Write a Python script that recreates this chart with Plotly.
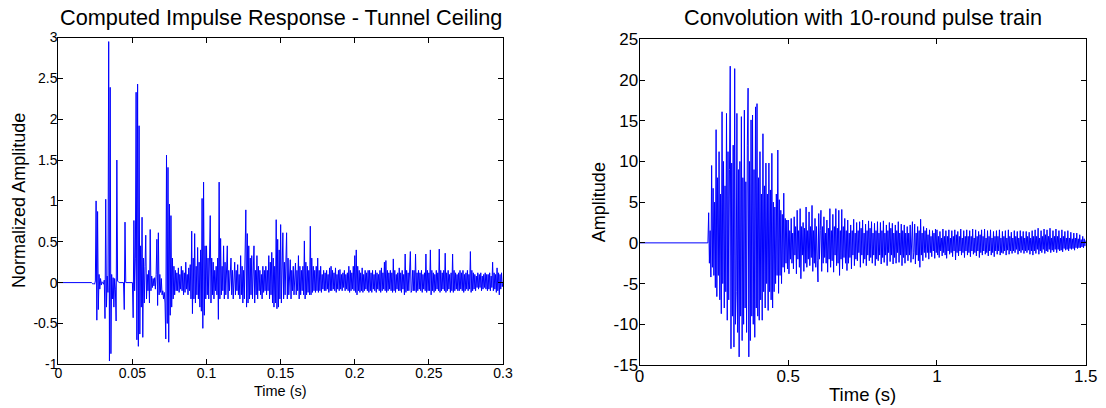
import numpy as np
import plotly.graph_objects as go

# ---------------- data: left panel (impulse response), sampled every 0.0005 s from t = 0 ----------------
ir_dt = 0.0005
ir_values = [
    # 0.000 - 0.0095
    0, 0, 0, 0, 0, 0, 0, 0, 0, 0, 0, 0, 0, 0, 0, 0, 0, 0, 0, 0,
    # 0.010 - 0.0195
    0, 0, 0, 0, 0, 0, 0, 0, 0, 0, 0, 0, 0, 0, 0, 0, 0, 0, 0, 0,
    # 0.020
    0, 0, 0, 0, 0, 0, -0.01, -0.02, -0.01, -0.02, 0.02, 1.0, -0.46, 0.87, -0.33, 0.1, -0.08, 0.05, -0.03, 0.01,
    # 0.030
    0, -0.02, 0.03, -0.44, 1.02, -0.3, 0.08, -0.12, 2.95, -0.96, 2.39, -0.87, 0.1, -0.2, 0.06, -0.3, 0.05, -0.08, -0.47, 1.5,
    # 0.040
    0.02, 0, 0, 0, 0, 0, 0, 0, 0, -0.33, 0.74, 0, 0, 0, 0, 0, 0, 0, 0, 0,
    # 0.050
    0, -0.43, 0.76, -0.1, 0.3, 2.33, -0.7, 2.43, -0.78, 1.92, -0.63, 0.45, -0.3, 0.8, -0.67, 0.3, -0.25, 0.2, 0.58, -0.2,
    # 0.060
    0.1, -0.1, 0.15, -0.25, 0.65, -0.1, 0.08, -0.06, 0.05, -0.04, 0.06, -0.08, 0.1, 0.53, -0.28, 0.61, -0.15, 0.1, -0.12, 0.05,
    # 0.070
    -0.15, -0.1, -0.2, -0.12, -0.25, -0.69, 1.56, -0.5, 1.41, -0.73, 0.96, -0.4, 0.82, -0.3, 0.3, -0.2, 0.2, -0.15, 0.15, -0.1,
    # 0.080
    0.12, -0.1, 0.18, -0.12, 0.1, -0.08, 0.2, -0.1, 0.15, -0.15, 0.12, -0.12, 0.25, -0.08, 0.1, -0.15, 0.18, -0.1, 0.22, -0.2,
    # 0.090
    0.63, -0.38, 0.3, -0.2, 0.6, -0.25, 0.2, -0.15, 0.43, -0.2, 0.25, -0.3, 0.4, -0.35, 1.03, -0.56, 1.23, -0.4, 0.45, -0.2,
    # 0.100
    0.45, -0.15, 0.3, -0.2, 0.2, 0.82, -0.25, 0.3, -0.15, 0.25, -0.2, 0.15, -0.1, 0.2, -0.15, 0.3, -0.45, 1.23, -0.2, 0.54,
    # 0.110
    -0.15, 0.2, -0.1, 0.45, -0.2, 0.25, -0.15, 0.2, 0.45, -0.2, 0.15, -0.1, 0.2, 0.3, -0.15, 0.15, -0.2, 0.1, 0.25, -0.15,
    # 0.120
    0.15, -0.1, 0.22, -0.15, 0.1, -0.2, 0.33, -0.15, 0.2, -0.25, 0.15, -0.2, 0.25, 0.89, -0.3, 0.6, -0.25, 0.45, -0.2, 0.3,
    # 0.130
    -0.15, 0.33, -0.2, 0.2, 0.45, -0.25, 0.15, -0.15, 0.33, -0.2, 0.2, -0.1, 0.15, -0.15, 0.1, -0.2, 0.2, -0.12, 0.15, -0.1,
    # 0.140
    0.2, -0.15, 0.15, -0.1, 0.33, -0.2, 0.25, -0.15, 0.37, -0.25, 0.3, -0.3, 0.2, -0.25, 0.77, -0.32, 0.53, -0.3, 0.4, -0.2,
    # 0.150
    0.71, -0.25, 0.3, 0.61, -0.2, 0.25, -0.15, 0.2, 0.61, -0.2, 0.3, -0.15, 0.2, 0.28, -0.2, 0.15, -0.1, 0.2, -0.15, 0.15,
    # 0.160
    0.24, -0.15, 0.15, -0.1, 0.33, -0.2, 0.2, -0.15, 0.15, -0.1, 0.2, -0.15, 0.51, -0.2, 0.25, -0.15, 0.2, -0.12, 0.15, -0.15,
    # 0.170
    0.69, -0.15, 0.3, -0.12, 0.2, -0.1, 0.15, -0.12, 0.2, -0.1, 0.3, -0.12, 0.15, -0.1, 0.2, -0.12, 0.1, -0.08, 0.15, -0.1,
    # 0.180
    0.12, -0.1, 0.15, -0.08, 0.1, -0.12, 0.18, -0.1, 0.2, -0.1, 0.15, -0.08, 0.12, -0.1, 0.18, -0.12, 0.1, -0.08, 0.15, -0.1,
    # 0.190
    0.16, -0.08, 0.1, -0.1, 0.12, -0.06, 0.15, -0.1, 0.1, -0.08, 0.12, -0.1, 0.2, -0.12, 0.15, -0.1, 0.12, -0.08, 0.2, -0.1,
    # 0.200
    0.33, -0.12, 0.4, -0.15, 0.2, -0.1, 0.15, -0.12, 0.12, -0.1, 0.18, -0.12, 0.1, -0.1, 0.15, -0.08, 0.12, -0.1, 0.15, -0.12,
    # 0.210
    0.15, -0.1, 0.12, -0.12, 0.15, -0.08, 0.1, -0.1, 0.15, -0.12, 0.12, -0.08, 0.1, -0.1, 0.15, -0.12, 0.18, -0.1, 0.12, -0.08,
    # 0.220
    0.25, -0.1, 0.27, -0.12, 0.15, -0.1, 0.12, -0.08, 0.15, -0.1, 0.12, -0.12, 0.29, -0.1, 0.15, -0.12, 0.1, -0.08, 0.12, -0.1,
    # 0.230
    0.18, -0.1, 0.12, -0.12, 0.15, -0.08, 0.1, -0.15, 0.35, -0.12, 0.15, -0.1, 0.12, -0.1, 0.15, 0.38, -0.12, -0.1, 0.15, -0.1,
    # 0.240
    0.15, -0.1, 0.35, -0.12, 0.12, -0.1, 0.15, -0.08, 0.12, -0.1, 0.15, -0.12, 0.1, -0.08, 0.12, -0.1, 0.35, -0.12, 0.15, -0.1,
    # 0.250
    0.12, -0.1, 0.4, -0.15, 0.15, -0.1, 0.12, -0.12, 0.1, -0.1, 0.15, -0.08, 0.12, -0.1, 0.41, -0.12, 0.15, -0.1, 0.12, -0.08,
    # 0.260
    0.15, -0.1, 0.36, -0.12, 0.12, -0.1, 0.15, -0.08, 0.1, -0.12, 0.12, -0.1, 0.35, -0.12, 0.15, -0.1, 0.12, -0.08, 0.1, -0.1,
    # 0.270
    0.12, -0.1, 0.15, -0.08, 0.12, -0.1, 0.15, -0.12, 0.1, -0.1, 0.12, -0.08, 0.15, -0.1, 0.1, -0.08, 0.38, -0.12, 0.15, -0.1,
    # 0.280
    0.12, -0.08, 0.1, -0.1, 0.08, -0.06, 0.12, -0.08, 0.1, -0.06, 0.12, -0.1, 0.08, -0.08, 0.1, -0.06, 0.12, -0.08, 0.1, -0.1,
    # 0.290
    0.1, -0.08, 0.12, -0.1, 0.08, -0.06, 0.25, -0.1, 0.12, -0.08, 0.1, -0.12, 0.18, -0.1, 0.12, -0.15, 0.1, -0.08, 0.12, -0.05,
    # 0.300
    0.0,
]

# ---------------- data: right panel (convolution) ----------------
# silent lead-in: the signal is zero from t = 0 until the block below starts
conv_lead_time = [0.0]
conv_lead_values = [0.0]
# then sampled every 0.0025 s from t = 0.2 s
conv_block_start = 0.2
conv_dt = 0.0025
conv_values = [
    # 0.20
    0, 0, 0, 0, 0, 0, 0, 0, 0, 0, 0, 0, 0, 3.7, -2.5, 1.5, -4.2, 9.5, -3, 6.7,
    -4, 5, -5.5, 13.9, -6.6, 8, -4, 11.2, -7, 6, -8.7, 16.1, -5, 10, -8, 7, -6, 15.9, -9.5, 11.2,
    # 0.30
    -7, 9, 21.7, -13, 9.8, -9, 12, -12.8, 21.4, -10, -6, 15.9, -11, 9, -14, 10, -9, 15.5, -12, 8,
    -10, 16.3, -8, 7.5, -11, 12, 19, -14, 10, -12, 15.1, -9, 15.7, -10, 9, -11.6, 16.7, -8, 17.1, -9,
    # 0.40
    8, -9.5, 11.2, -7, 6, -9.5, 13.4, -6, 7, -8, 9.8, -5, 6, -8.3, 9.8, -6, 6.5, -7, 11, -8,
    5, -6, 4.4, -5, 6, -4, 11.4, -6.2, 5.3, -4, 4, -5, 3.5, -3, 6.1, -3.6, 3, -2.5, 2.8, -3.2,
    # 0.50
    2.8, -3.8, 1.5, -2, 3.0, -2.5, 1.2, -3.2, 3.2, -1.5, 2, -3.8, 4.0, -2, 1.5, -3.0, 4.2, -4.4, 2, -1.5,
    2.5, -3.5, 1.8, -2.5, 4.4, -3.0, 1.5, -2, 3.8, -2.8, 2, -1.8, 4.6, -3.5, 1.5, -2.5, 3.0, -3, 2, -2.2,
    # 0.60
    -4.8, 3.6, -2, 1.5, 4.0, -3.5, 2, -2.5, 3.2, -1.8, 1.2, -2.5, 2.8, -3.6, 1.8, -2, 4.2, -3.0, 1.5, -2.2,
    3.5, -3.6, 2, -1.5, 4.2, -2.8, 1.8, -2.5, 4.0, -4.0, 1.5, -2, 4.1, -3.2, 2, -1.8, 3.0, -2.5, 1.5, -3.4,
    # 0.70
    2.8, -2.5, 1.2, -1.8, 2.2, -3.2, 1.5, -1.5, 2.9, -2.8, 1.2, -2, 2.5, -2.2, 1.5, -1.2, 2.6, -3.0, 1.8, -1.5,
    2.8, -2.5, 1.2, -2, 2.3, -2.8, 1.5, -1.5, 2.7, -2.2, 1.8, -1.8, 2.6, -2.5, 1.2, -1.5, 2.4, -2.8, 1.5, -2,
    # 0.80
    2.6, -2.2, 1.2, -1.5, 2.5, -2.6, 1.5, -1.8, 2.7, -2.4, 1.2, -1.5, 2.2, -2.8, 1.5, -1.2, 2.5, -2.3, 1.8, -1.5,
    2.4, -2.6, 1.2, -1.8, 2.2, -2.5, 1.5, -1.2, 2.6, -2.4, 1.2, -1.5, 2.3, -2.8, 1.5, -1.8, 2.2, -2.5, 1.2, -1.5,
    # 0.90
    2.0, -2.2, 1.2, -1.5, 2.2, -2.4, 1.5, 2.6, -2.0, -1.2, 2.3, -2.6, 1.2, -1.5, 2.0, -2.2, 1.5, -3.0, 2.9, -1.5,
    1.2, -2.2, 2.0, -1.2, 1.5, -1.8, 1.8, -1.2, 1.0, -2.0, 1.6, -1.2, 0.8, -1.7, 1.5, -1.0, 1.2, -1.9, 1.7, -1.2,
    # 1.00
    1.6, -1.5, 0.8, -1.8, 1.4, -1.0, 0.6, -1.6, 1.7, -1.2, 0.8, -1.5, 1.5, -1.9, 0.8, -1.0, 1.6, -1.4, 0.6, -1.2,
    1.5, -1.7, 0.8, -1.0, 1.6, -2.1, 1.0, -1.2, 1.4, -1.6, 0.8, -1.0, 1.7, -1.5, 0.6, -1.2, 1.5, -1.8, 0.8, -1.0,
    # 1.10
    1.6, -1.5, 0.8, -1.2, 1.5, -1.7, 0.8, -1.0, 1.7, -1.4, 0.6, -1.2, 1.6, -1.6, 0.8, -1.0, 1.4, -1.8, 1.0, -1.2,
    1.6, -1.5, 0.8, -1.0, 1.7, -1.4, 0.6, -1.2, 1.5, -1.6, 0.8, -1.0, 1.6, -1.5, 0.6, -1.2, 1.4, -1.7, 0.8, -1.0,
    # 1.20
    1.5, -1.4, 0.8, -1.0, 1.6, -1.5, 0.6, -1.2, 1.4, -1.3, 0.8, -1.0, 1.5, -1.5, 0.6, -0.9, 1.6, -1.4, 0.8, -1.0,
    1.3, -1.3, 0.6, -1.0, 1.5, -1.2, 0.8, -0.8, 1.4, -1.4, 0.6, -1.0, 1.5, -1.2, 0.8, -0.9, 1.4, -1.3, 0.6, -1.0,
    # 1.30
    1.4, -1.2, 0.8, -0.9, 1.3, -1.4, 0.6, -1.0, 1.5, -1.5, 0.8, -1.0, 1.6, -1.3, 0.8, -0.8, 1.8, -1.4, 0.6, -1.0,
    1.5, -1.2, 0.8, -0.8, 1.7, -1.3, 1.0, -1.0, 1.6, -1.1, 0.8, -0.8, 1.8, -1.2, 0.6, -0.9, 1.5, -1.1, 0.8, -0.8,
    # 1.40
    1.7, -1.2, 0.8, -0.8, 1.5, -1.0, 0.6, -0.9, 1.6, -1.1, 0.8, -0.7, 1.4, -0.9, 0.6, -0.8, 1.5, -1.0, 0.6, -0.7,
    1.3, -0.8, 0.5, -0.7, 1.2, -0.9, 0.6, -0.6, 1.2, -0.7, 0.5, -0.6, 1.0, -0.6, 0.4, -0.5, 0.8, -0.6, 0.5, -0.4,
    # 1.50
    0.3,
]

left_title = "Computed Impulse Response - Tunnel Ceiling"
right_title = "Convolution with 10-round pulse train"
left_xlabel = "Time (s)"
left_ylabel = "Normalized Amplitude"
right_xlabel = "Time (s)"
right_ylabel = "Amplitude"
left_xticks = [0, 0.05, 0.1, 0.15, 0.2, 0.25, 0.3]
left_xticklabels = ["0", "0.05", "0.1", "0.15", "0.2", "0.25", "0.3"]
left_yticks = [-1, -0.5, 0, 0.5, 1, 1.5, 2, 2.5, 3]
left_yticklabels = ["-1", "-0.5", "0", "0.5", "1", "1.5", "2", "2.5", "3"]
right_xticks = [0, 0.5, 1, 1.5]
right_xticklabels = ["0", "0.5", "1", "1.5"]
right_yticks = [-15, -10, -5, 0, 5, 10, 15, 20, 25]
right_yticklabels = ["-15", "-10", "-5", "0", "5", "10", "15", "20", "25"]

ir_t = np.arange(len(ir_values)) * ir_dt
conv_t = np.concatenate([conv_lead_time, conv_block_start + np.arange(len(conv_values)) * conv_dt])
conv_y = list(conv_lead_values) + list(conv_values)

FONT = "Arial, Liberation Sans, sans-serif"
W, H = 1106, 408
BLUE = "#0000ff"

fig = go.Figure()
fig.add_trace(go.Scatter(x=ir_t, y=ir_values, mode="lines",
                         line=dict(color=BLUE, width=1), xaxis="x", yaxis="y",
                         showlegend=False, hoverinfo="skip"))
fig.add_trace(go.Scatter(x=conv_t, y=conv_y, mode="lines",
                         line=dict(color=BLUE, width=1), xaxis="x2", yaxis="y2",
                         showlegend=False, hoverinfo="skip"))


def px_x(p):
    return p / W


def px_y(p):
    return 1 - p / H


def axis_style(size, standoff):
    return dict(showgrid=False, zeroline=False, showline=True, linecolor="black",
                linewidth=1, mirror="ticks", ticks="inside", ticklen=5,
                tickcolor="black", automargin=False, ticklabelstandoff=standoff,
                tickfont=dict(family=FONT, size=size, color="black"))


# page-pixel positions of the two plot boxes
L = dict(x0=58.3, x1=503, y0=37.5, y1=364.3)
R = dict(x0=639.5, x1=1085.7, y0=39.3, y1=365)

fig.update_layout(
    width=W, height=H, margin=dict(l=0, r=0, t=0, b=0, autoexpand=False),
    paper_bgcolor="white", plot_bgcolor="white",
    xaxis=dict(domain=[px_x(L["x0"]), px_x(L["x1"])], range=[0, 0.3],
               tickvals=left_xticks, ticktext=left_xticklabels, anchor="y", **axis_style(14, -4)),
    yaxis=dict(domain=[px_y(L["y1"]), px_y(L["y0"])], range=[-1, 3],
               tickvals=left_yticks, ticktext=left_yticklabels, anchor="x", **axis_style(14, -3)),
    xaxis2=dict(domain=[px_x(R["x0"]), px_x(R["x1"])], range=[0, 1.5],
                tickvals=right_xticks, ticktext=right_xticklabels, anchor="y2", **axis_style(17, -4)),
    yaxis2=dict(domain=[px_y(R["y1"]), px_y(R["y0"])], range=[-15, 25],
                tickvals=right_yticks, ticktext=right_yticklabels, anchor="x2", **axis_style(17, -3)),
)

texts = [
    (left_title, (L["x0"] + L["x1"]) / 2, 17.5, 21.7, 0),
    (right_title, (R["x0"] + R["x1"]) / 2, 17.5, 21.7, 0),
    (left_xlabel, (L["x0"] + L["x1"]) / 2, 391, 14.5, 0),
    (right_xlabel, (R["x0"] + R["x1"]) / 2, 394, 18.5, 0),
    (left_ylabel, 19, (L["y0"] + L["y1"]) / 2, 18, -90),
    (right_ylabel, 599, (R["y0"] + R["y1"]) / 2, 18, -90),
]
annotations = []
for text, xp, yp, size, angle in texts:
    annotations.append(dict(text=text, x=px_x(xp), y=px_y(yp), xref="paper", yref="paper",
                            showarrow=False, xanchor="center", yanchor="middle", textangle=angle,
                            font=dict(family=FONT, size=size, color="black")))
fig.update_layout(annotations=annotations)

# the page's default 8px body margin would shift the figure; remove it so that
# the figure fills the 1106x408 window exactly
fig.write_html("out.html", config={"displayModeBar": False},
               post_script="document.body.style.margin='0';")
